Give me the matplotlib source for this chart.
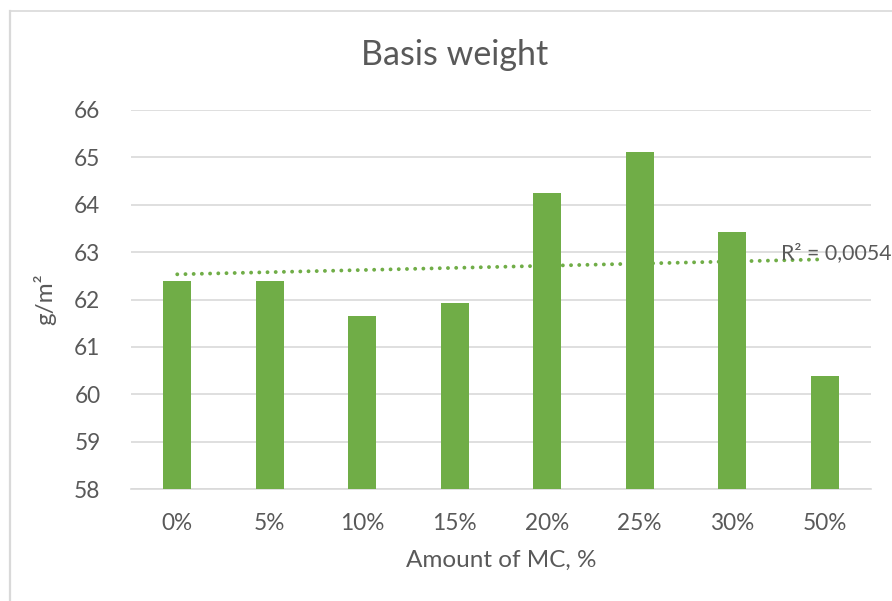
import numpy as np
import matplotlib
matplotlib.use("Agg")
import matplotlib.pyplot as plt
from matplotlib.lines import Line2D

plt.rcParams['font.family'] = ['Lato', 'DejaVu Sans']

categories = ["0%", "5%", "10%", "15%", "20%", "25%", "30%", "50%"]
basis_weight = [62.38, 62.40, 61.66, 61.92, 64.24, 65.12, 63.42, 60.38]
y_ticks = [58, 59, 60, 61, 62, 63, 64, 65, 66]
r2_label = "R² = 0,0054"

bar_color = "#70AD47"
text_color = "#595959"
grid_color = "#D9D9D9"

fig = plt.figure(figsize=(8.92, 6.01), dpi=100)
ax = fig.add_axes([131 / 892, 1 - 489 / 601, 740 / 892, 379 / 601])

x = np.arange(len(categories))
ax.bar(x, basis_weight, width=0.30, bottom=0, color=bar_color, zorder=3)

# linear trendline across the categories
coef = np.polyfit(x + 1, basis_weight, 1)
trend = np.polyval(coef, x + 1)
ax.plot(x, trend, color=bar_color, linewidth=2.8,
        linestyle=(0, (0.01, 2.1)), dash_capstyle='round', zorder=4)
ax.text(x[-1] - 0.47, trend[-1] - 0.07, r2_label, fontsize=15.3,
        color=text_color, ha='left', va='bottom', zorder=5, clip_on=False)

ax.set_xlim(-0.5, len(categories) - 0.5)
ax.set_ylim(58, 66)
ax.set_yticks(y_ticks)
ax.set_xticks(x)
ax.set_xticklabels(categories)
ax.yaxis.grid(True, color=grid_color, linewidth=1.2, zorder=0)
ax.set_axisbelow(True)
for s in ["top", "right", "left"]:
    ax.spines[s].set_visible(False)
ax.spines["bottom"].set_color(grid_color)
ax.spines["bottom"].set_linewidth(1.2)
ax.tick_params(axis='both', length=0, labelsize=16.3, labelcolor=text_color)
ax.tick_params(axis='x', pad=17)
ax.tick_params(axis='y', pad=22)

ax.set_xlabel("Amount of MC, %", fontsize=17.5, color=text_color, labelpad=12)
ax.set_ylabel("g/m²", fontsize=17.5, color=text_color, labelpad=13)
fig.text(455 / 892, 1 - 55 / 601, "Basis weight", fontsize=24.5, color=text_color,
         ha='center', va='center')

# chart frame
fig.add_artist(Line2D([10 / 892, 10 / 892], [0, 1 - 11 / 601], color=grid_color,
                      linewidth=1.6, transform=fig.transFigure))
fig.add_artist(Line2D([10 / 892, 1], [1 - 11 / 601, 1 - 11 / 601], color=grid_color,
                      linewidth=1.2, transform=fig.transFigure))

fig.savefig("out.png", dpi=100, facecolor="white")
